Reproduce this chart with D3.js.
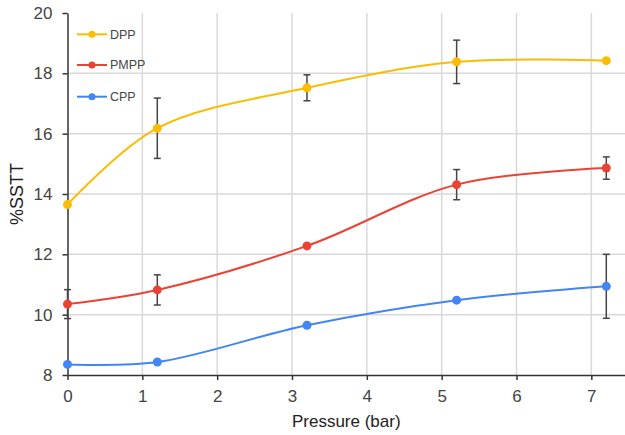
<!DOCTYPE html>
<html><head><meta charset="utf-8">
<script src="https://cdn.jsdelivr.net/npm/d3@7"></script>
<style>body{margin:0;background:#fff}svg{display:block}</style>
</head><body><svg id="c" width="625" height="435"></svg>
<script>
const pressure = [0, 1.2, 3.2, 5.2, 7.2];
const dpp  = [13.65, 16.18, 17.52, 18.38, 18.42];
const dppErr = [0, 1.0, 0.43, 0.72, 0];
const pmpp = [10.35, 10.82, 12.28, 14.31, 14.86];
const pmppErr = [0.48, 0.5, 0, 0.5, 0.37];
const cpp  = [8.35, 8.43, 9.65, 10.48, 10.94];
const cppErr = [0, 0, 0.05, 0, 1.06];
const seriesNames = ["DPP", "PMPP", "CPP"];
const colors = ["#fbbc04", "#ea4335", "#4285f4"];
const xTicks = [0,1,2,3,4,5,6,7];
const yTicks = [8,10,12,14,16,18,20];

const series = [
  {name: seriesNames[0], vals: dpp, err: dppErr, color: colors[0]},
  {name: seriesNames[1], vals: pmpp, err: pmppErr, color: colors[1]},
  {name: seriesNames[2], vals: cpp, err: cppErr, color: colors[2]}
];

const FONT = "'Liberation Sans', Arial, sans-serif";
const svg = d3.select("#c");
const L = 67.5, R = 625, T = 13, B = 375;
const x = d3.scaleLinear().domain([0, 7.45]).range([L, R]);
const y = d3.scaleLinear().domain([8, 20]).range([B, T]);

// grid
const g = svg.append("g");
g.selectAll(".vg").data(xTicks.filter(d => d > 0)).join("line")
  .attr("x1", d => x(d)).attr("x2", d => x(d)).attr("y1", T).attr("y2", B)
  .attr("stroke", "#d9d9d9").attr("stroke-width", 1.5);
g.selectAll(".hg").data(yTicks.filter(d => d > 8 && d < 20)).join("line")
  .attr("x1", L).attr("x2", R).attr("y1", d => y(d)).attr("y2", d => y(d))
  .attr("stroke", "#d9d9d9").attr("stroke-width", 1.5);

// axes
const xAxis = svg.append("g").attr("transform", `translate(0,${B})`)
  .call(d3.axisBottom(x).tickValues(xTicks).tickSize(5).tickSizeOuter(0).tickFormat(d3.format("d")));
const yAxis = svg.append("g").attr("transform", `translate(${L},0)`)
  .call(d3.axisLeft(y).tickValues(yTicks).tickSize(5).tickSizeOuter(0).tickFormat(d3.format("d")));
[xAxis, yAxis].forEach(a => {
  a.select(".domain").attr("stroke", "#333").attr("stroke-width", 1.5);
  a.selectAll(".tick line").attr("stroke", "#333").attr("stroke-width", 1.5);
  a.selectAll(".tick text").attr("fill", "#444").attr("font-size", 17)
    .attr("font-family", FONT);
});
xAxis.selectAll(".tick text").attr("dy", "0.71em").attr("y", 15);
yAxis.selectAll(".tick text").attr("x", -15);

// titles
svg.append("text").attr("x", (L + R) / 2).attr("y", 427).attr("text-anchor", "middle")
  .attr("font-size", 17).attr("fill", "#222").attr("font-family", FONT)
  .text("Pressure (bar)");
svg.append("text").attr("transform", `translate(23,${(T + B) / 2}) rotate(-90)`)
  .attr("text-anchor", "middle").attr("font-size", 18).attr("fill", "#222")
  .attr("font-family", FONT).text("%SSTT");

// lines
const line = d3.line().x(d => x(d[0])).y(d => y(d[1])).curve(d3.curveCatmullRom.alpha(0.5));
series.forEach(s => {
  const pts = pressure.map((p, i) => [p, s.vals[i]]);
  svg.append("path").datum(pts).attr("d", line).attr("fill", "none")
    .attr("stroke", s.color).attr("stroke-width", 2);
});
// error bars
series.forEach(s => {
  const eg = svg.append("g");
  pressure.forEach((p, i) => {
    const e = s.err[i];
    if (!e) return;
    const cx = x(p), y1 = y(s.vals[i] + e), y2 = y(s.vals[i] - e);
    eg.append("line").attr("x1", cx).attr("x2", cx).attr("y1", y1).attr("y2", y2)
      .attr("stroke", "#444").attr("stroke-width", 1.5);
    [y1, y2].forEach(yy => eg.append("line").attr("x1", cx - 3.5).attr("x2", cx + 3.5)
      .attr("y1", yy).attr("y2", yy).attr("stroke", "#444").attr("stroke-width", 1.5));
  });
});
// markers
series.forEach(s => {
  svg.append("g").selectAll("circle").data(pressure.map((p, i) => [p, s.vals[i]])).join("circle")
    .attr("cx", d => x(d[0])).attr("cy", d => y(d[1])).attr("r", 4.5).attr("fill", s.color);
});

// legend
const legY = [34.3, 65, 96.7];
series.forEach((s, i) => {
  const lg = svg.append("g");
  lg.append("line").attr("x1", 77).attr("x2", 107).attr("y1", legY[i]).attr("y2", legY[i])
    .attr("stroke", s.color).attr("stroke-width", 2);
  lg.append("circle").attr("cx", 92).attr("cy", legY[i]).attr("r", 3.5).attr("fill", s.color);
  lg.append("text").attr("x", 110).attr("y", legY[i]).attr("dy", "0.35em")
    .attr("font-size", 12.5).attr("fill", "#444").attr("font-family", FONT)
    .text(s.name);
});
</script></body></html>
